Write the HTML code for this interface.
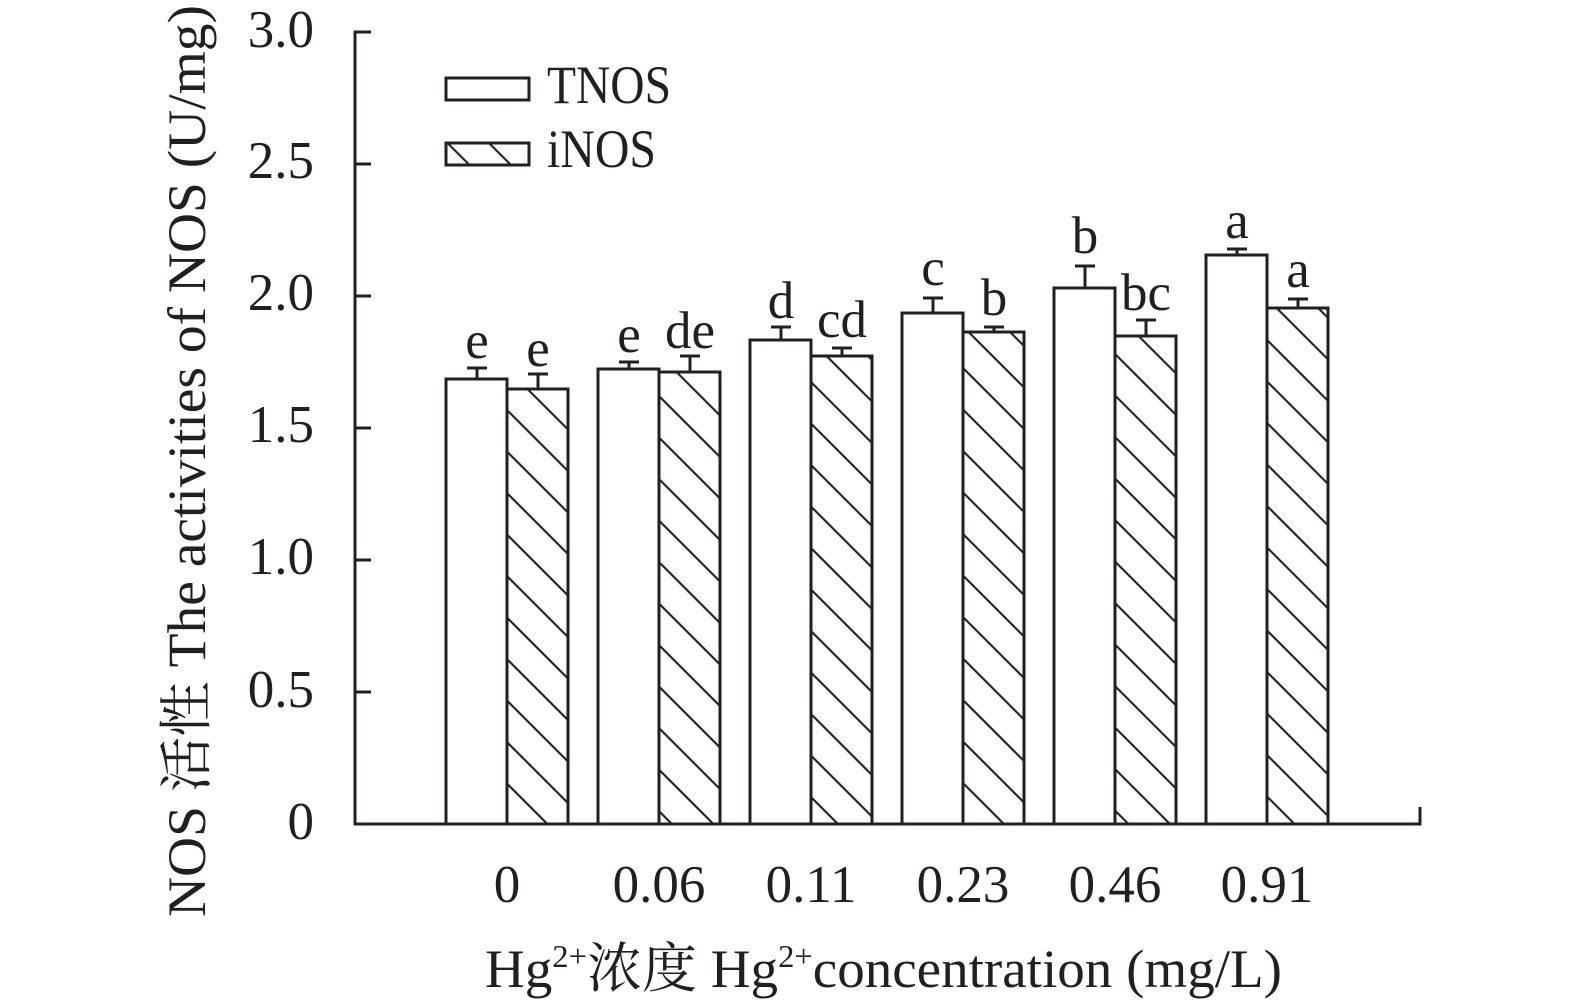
<!DOCTYPE html>
<html>
<head>
<meta charset="utf-8">
<style>
html,body{margin:0;padding:0;background:#fff;}
svg{display:block;}
text{font-family:"Liberation Serif","Noto Serif CJK SC","Noto Sans CJK SC",serif;fill:#231f20;}
</style>
</head>
<body>
<svg width="1575" height="1003" viewBox="0 0 1575 1003" xmlns="http://www.w3.org/2000/svg">
<defs>
<pattern id="h" patternUnits="userSpaceOnUse" width="10" height="29.35" patternTransform="rotate(45)">
<rect x="0" y="18.45" width="10" height="2.1" fill="#231f20"/>
</pattern>
</defs>
<rect width="1575" height="1003" fill="#fff"/>

<!-- bars -->
<g stroke="#231f20" stroke-width="3">
<rect x="446" y="379" width="61" height="445" fill="#fff"/>
<rect x="507" y="389" width="61" height="435" fill="#fff"/>
<rect x="507" y="389" width="61" height="435" fill="url(#h)"/>
<rect x="598" y="369" width="61" height="455" fill="#fff"/>
<rect x="659" y="372" width="61" height="452" fill="#fff"/>
<rect x="659" y="372" width="61" height="452" fill="url(#h)"/>
<rect x="750" y="340" width="61" height="484" fill="#fff"/>
<rect x="811" y="356" width="61" height="468" fill="#fff"/>
<rect x="811" y="356" width="61" height="468" fill="url(#h)"/>
<rect x="902" y="313" width="61" height="511" fill="#fff"/>
<rect x="963" y="332" width="61" height="492" fill="#fff"/>
<rect x="963" y="332" width="61" height="492" fill="url(#h)"/>
<rect x="1054" y="288" width="61" height="536" fill="#fff"/>
<rect x="1115" y="336" width="61" height="488" fill="#fff"/>
<rect x="1115" y="336" width="61" height="488" fill="url(#h)"/>
<rect x="1206" y="255" width="61" height="569" fill="#fff"/>
<rect x="1267" y="308" width="61" height="516" fill="#fff"/>
<rect x="1267" y="308" width="61" height="516" fill="url(#h)"/>
</g>

<!-- error bars -->
<g stroke="#231f20" stroke-width="3" fill="none">
<path d="M477 379V368M467 368H487"/>
<path d="M538 389V374M528 374H548"/>
<path d="M629 369V362M619 362H639"/>
<path d="M690 372V356M680 356H700"/>
<path d="M781 340V327M771 327H791"/>
<path d="M842 356V348M832 348H852"/>
<path d="M933 313V298M923 298H943"/>
<path d="M994 332V327M984 327H1004"/>
<path d="M1085 288V266M1075 266H1095"/>
<path d="M1146 336V320M1136 320H1156"/>
<path d="M1237 255V249M1227 249H1247"/>
<path d="M1298 308V299M1288 299H1308"/>
</g>

<!-- significance letters -->
<g font-size="53" text-anchor="middle">
<text x="477" y="358">e</text>
<text x="538" y="366">e</text>
<text x="629" y="352">e</text>
<text x="690" y="348">de</text>
<text x="781" y="318">d</text>
<text x="842" y="337">cd</text>
<text x="933" y="285">c</text>
<text x="994" y="315">b</text>
<text x="1085" y="253">b</text>
<text x="1146" y="310">bc</text>
<text x="1237" y="238">a</text>
<text x="1298" y="287">a</text>
</g>

<!-- axes -->
<g stroke="#231f20" stroke-width="3" fill="none">
<path d="M355 30.5V825.5"/>
<path d="M353.5 824H1421.5"/>
<path d="M1420 824V807"/>
<path d="M355 32H371M355 164H371M355 296H371M355 428H371M355 560H371M355 692H371"/>
</g>

<!-- y tick labels -->
<g font-size="53" text-anchor="end">
<text x="314" y="47">3.0</text>
<text x="314" y="178">2.5</text>
<text x="314" y="310">2.0</text>
<text x="314" y="442">1.5</text>
<text x="314" y="574">1.0</text>
<text x="314" y="707">0.5</text>
<text x="314" y="839">0</text>
</g>

<!-- x tick labels -->
<g font-size="53" text-anchor="middle">
<text x="507" y="902">0</text>
<text x="659" y="902">0.06</text>
<text x="811" y="902">0.11</text>
<text x="963" y="902">0.23</text>
<text x="1115" y="902">0.46</text>
<text x="1267" y="902">0.91</text>
</g>

<!-- legend -->
<rect x="446" y="78" width="83" height="22" fill="#fff" stroke="#231f20" stroke-width="3"/>
<rect x="446" y="143" width="83" height="22" fill="url(#h)" stroke="#231f20" stroke-width="3"/>
<text x="547" y="103" font-size="54" textLength="124" lengthAdjust="spacingAndGlyphs">TNOS</text>
<text x="547" y="167" font-size="54" textLength="109" lengthAdjust="spacingAndGlyphs">iNOS</text>

<!-- axis titles -->
<text x="485" y="987" font-size="54" textLength="797" lengthAdjust="spacingAndGlyphs">Hg<tspan font-size="32" dy="-20">2+</tspan><tspan dy="20">浓度 Hg</tspan><tspan font-size="32" dy="-20">2+</tspan><tspan dy="20">concentration (mg/L)</tspan></text>

<text transform="translate(205,917) rotate(-90)" x="0" y="0" font-size="54" textLength="912" lengthAdjust="spacingAndGlyphs">NOS 活性 The activities of NOS (U/mg)</text>
</svg>
</body>
</html>
